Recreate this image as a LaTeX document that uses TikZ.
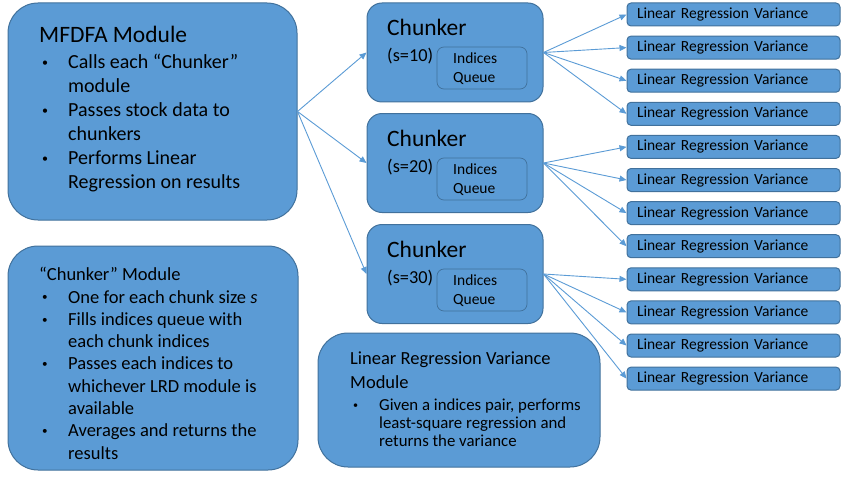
\documentclass[tikz,border=0pt]{standalone}
\usepackage{fontspec}
\setmainfont{Carlito}
\usetikzlibrary{arrows.meta}
\definecolor{OfficeBlue}{HTML}{5B9BD5}
\definecolor{OfficeEdge}{HTML}{41719C}

\newcommand{\bul}{\makebox[28pt][l]{\hspace{2pt}\raisebox{0.12em}{\scalebox{0.6}{\textbullet}}}}
\newcommand{\ind}{\hspace*{28pt}}

\begin{document}
\begin{tikzpicture}[x=1pt, y=-1pt,
    module/.style={draw=OfficeEdge, fill=OfficeBlue, line width=1pt, rounded corners=30pt, inner sep=0pt},
    chunkbox/.style={draw=OfficeEdge, fill=OfficeBlue, line width=1pt, rounded corners=15pt,
      minimum width=176pt, minimum height=99pt, inner sep=0pt},
    queuebox/.style={draw=OfficeEdge, fill=OfficeBlue, line width=0.7pt, rounded corners=7pt,
      minimum width=90pt, minimum height=42pt, inner sep=0pt},
    lrvbox/.style={draw=OfficeEdge, fill=OfficeBlue, line width=1pt, rounded corners=4pt,
      text width=193pt, minimum height=23pt, inner xsep=10pt, inner ysep=0pt, align=left,
      font=\fontsize{15.5}{18}\selectfont},
    txt/.style={inner sep=0pt, align=left, anchor=north west},
    link/.style={draw=OfficeBlue, line width=0.9pt, -{Triangle[length=7pt,width=6pt]}},
  ]
        \useasboundingbox (0,0) rectangle (850,476);

        % MFDFA Module
        \node[module, minimum width=289pt, minimum height=217pt] (mfdfa) at (152.5,111.5) {};
        \node[txt, font=\fontsize{23.5}{28}\selectfont] (mfdfatitle) at (39,26) {MFDFA Module};
        \node[txt, font=\fontsize{20}{24}\selectfont] (mfdfalist) at (40,54) {%
          \bul Calls each “Chunker”\\
          \ind module\\
          \bul Passes stock data to\\
          \ind chunkers\\
          \bul Performs Linear\\
          \ind Regression on results};

        % "Chunker" Module
        \node[module, minimum width=290pt, minimum height=224pt] (chunkmod) at (153,358) {};
        \node[txt, font=\fontsize{18.5}{22.3}\selectfont] (chunkmodtitle) at (39,267) {“Chunker” Module};
        \node[txt, font=\fontsize{18.5}{22.3}\selectfont] (chunkmodlist) at (40,290) {%
          \bul One for each chunk size~\textit{s}\\
          \bul Fills indices queue with\\
          \ind each chunk indices\\
          \bul Passes each indices to\\
          \ind whichever LRD module is\\
          \ind available\\
          \bul Averages and returns the\\
          \ind results};

        % Chunkers
        \node[chunkbox] (chunkA) at (455,52.5) {};
        \node[txt, font=\fontsize{23.5}{28}\selectfont] (chunkAtitle) at (387,19) {Chunker};
        \node[txt, font=\fontsize{18.3}{22}\selectfont] (chunkAsize) at (387,48) {(s=10)};
        \node[queuebox] (queueA) at (482,68) {};
        \node[txt, font=\fontsize{15.5}{19}\selectfont] (queueAtxt) at (453,53) {Indices\\Queue};

        \node[chunkbox] (chunkB) at (455,163) {};
        \node[txt, font=\fontsize{23.5}{28}\selectfont] (chunkBtitle) at (387,129.5) {Chunker};
        \node[txt, font=\fontsize{18.3}{22}\selectfont] (chunkBsize) at (387,158.5) {(s=20)};
        \node[queuebox] (queueB) at (482,179) {};
        \node[txt, font=\fontsize{15.5}{19}\selectfont] (queueBtxt) at (453,164) {Indices\\Queue};

        \node[chunkbox] (chunkC) at (455,274) {};
        \node[txt, font=\fontsize{23.5}{28}\selectfont] (chunkCtitle) at (387,240.5) {Chunker};
        \node[txt, font=\fontsize{18.3}{22}\selectfont] (chunkCsize) at (387,269.5) {(s=30)};
        \node[queuebox] (queueC) at (482,290) {};
        \node[txt, font=\fontsize{15.5}{19}\selectfont] (queueCtxt) at (453,275) {Indices\\Queue};

        % Linear Regression Variance Module
        \node[module, minimum width=282pt, minimum height=134pt] (lrvmod) at (459,400) {};
        \node[txt, font=\fontsize{18.5}{24}\selectfont] (lrvmodtitle) at (350,352) {Linear Regression Variance\\Module};
        \node[txt, font=\fontsize{16.8}{17.8}\selectfont] (lrvmodlist) at (351,399) {%
          \bul Given a indices pair, performs\\
          \ind least-square regression and\\
          \ind returns the variance};

        % Linear Regression Variance boxes
        \node[lrvbox] (lrv1) at (733.5,14.5) {Linear Regression Variance};
        \node[lrvbox] (lrv2) at (733.5,47.6) {Linear Regression Variance};
        \node[lrvbox] (lrv3) at (733.5,80.7) {Linear Regression Variance};
        \node[lrvbox] (lrv4) at (733.5,113.8) {Linear Regression Variance};
        \node[lrvbox] (lrv5) at (733.5,146.9) {Linear Regression Variance};
        \node[lrvbox] (lrv6) at (733.5,180) {Linear Regression Variance};
        \node[lrvbox] (lrv7) at (733.5,213.1) {Linear Regression Variance};
        \node[lrvbox] (lrv8) at (733.5,246.2) {Linear Regression Variance};
        \node[lrvbox] (lrv9) at (733.5,279.3) {Linear Regression Variance};
        \node[lrvbox] (lrv10) at (733.5,312.4) {Linear Regression Variance};
        \node[lrvbox] (lrv11) at (733.5,345.5) {Linear Regression Variance};
        \node[lrvbox] (lrv12) at (733.5,378.6) {Linear Regression Variance};

        % MFDFA -> Chunkers
        \draw[link] (mfdfa.east) -- (chunkA.west);
        \draw[link] (mfdfa.east) -- (chunkB.west);
        \draw[link] (mfdfa.east) -- (chunkC.west);

        % Chunkers -> LRV
        \draw[link] (chunkA.east) -- (lrv1.west);
        \draw[link] (chunkA.east) -- (lrv2.west);
        \draw[link] (chunkA.east) -- (lrv3.west);
        \draw[link] (chunkA.east) -- (lrv4.west);
        \draw[link] (chunkB.east) -- (lrv5.west);
        \draw[link] (chunkB.east) -- (lrv6.west);
        \draw[link] (chunkB.east) -- (lrv7.west);
        \draw[link] (chunkB.east) -- (lrv8.west);
        \draw[link] (chunkC.east) -- (lrv9.west);
        \draw[link] (chunkC.east) -- (lrv10.west);
        \draw[link] (chunkC.east) -- (lrv11.west);
        \draw[link] (chunkC.east) -- (lrv12.west);
\end{tikzpicture}
\end{document}
